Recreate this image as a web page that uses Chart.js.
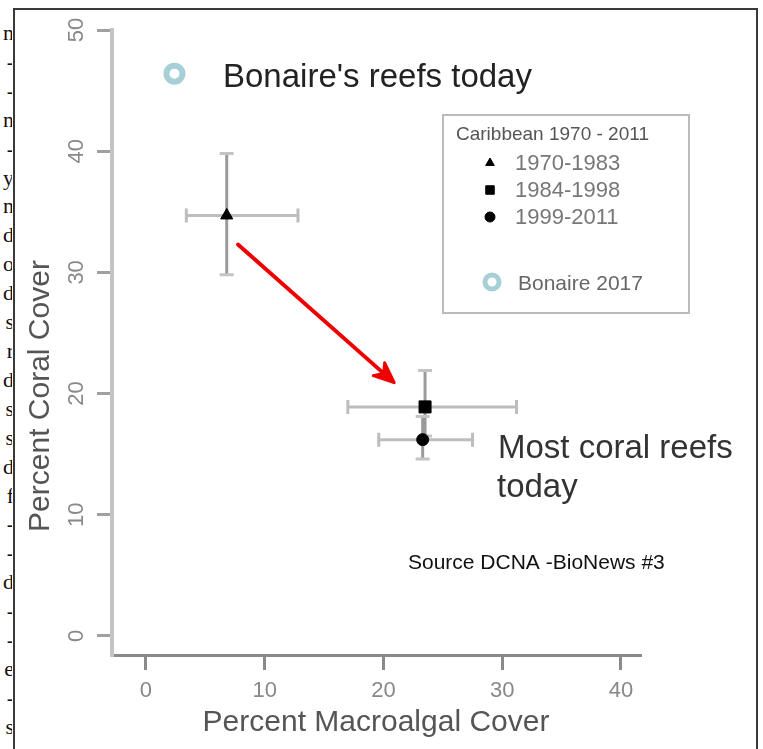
<!DOCTYPE html>
<html>
<head>
<meta charset="utf-8">
<script src="https://cdn.jsdelivr.net/npm/chart.js@4.4.1/dist/chart.umd.min.js"></script>
<style>
html, body { margin: 0; padding: 0; background: #fff; width: 763px; height: 749px; overflow: hidden; }
#frame { position: absolute; left: 13px; top: 8px; width: 745px; height: 780px; border: 2px solid #3a3a3a; border-bottom: none; box-sizing: border-box; }
#margin { position: absolute; left: 0; top: 0; width: 12px; height: 749px; overflow: hidden; padding-top: 19px; box-sizing: border-box;
  font-family: "Liberation Serif", serif; font-size: 22px; line-height: 28.9px; color: #111; }
#margin div { text-align: right; margin-right: -2px; white-space: nowrap; }
#myChart { position: absolute; left: 0; top: 0; }
</style>
</head>
<body>
<div id="margin"></div>
<div id="frame"></div>
<canvas id="myChart" width="763" height="749"></canvas>
<script>
// lettres coupées du texte voisin, à gauche du cadre
const marginLetters = ['n', '-', '-', 'n', '-', 'y', 'n', 'd', 'o', 'd', 's', 'r', 'd', 's', 's', 'd', 'f', '-', '-', 'd', '-', '-', 'e', '-', 's'];

// Données
const periods = ['1970-1983', '1984-1998', '1999-2011'];
const periodStyles = ['triangle', 'rect', 'circle'];
const macroalgae = [6.8, 23.5, 23.3];
const coral = [34.7, 18.9, 16.2];
const macroLow = [3.4, 17.0, 19.6];
const macroHigh = [12.8, 31.2, 27.5];
const coralLow = [29.8, 16.5, 14.6];
const coralHigh = [39.8, 21.9, 18.1];

const bonaireLabel = 'Bonaire 2017';
const bonaireMacro = [2.4];
const bonaireCoral = [46.4];

// flèche rouge (début, fin) en valeurs des axes
const arrowFrom = [7.75, 32.3];
const arrowTo = [20.9, 20.9];

const xTicks = [0, 10, 20, 30, 40];
const yTicks = [0, 10, 20, 30, 40, 50];
const xTitle = 'Percent Macroalgal Cover';
const yTitle = 'Percent Coral Cover';
const legendTitle = 'Caribbean 1970 - 2011';

const font = '"Liberation Sans", Arial, sans-serif';

const margin = document.getElementById('margin');
marginLetters.forEach(l => {
    const d = document.createElement('div');
    d.textContent = l;
    margin.appendChild(d);
});

// barres d'erreur sous les points
const errorBars = {
    id: 'errorBars',
    beforeDatasetsDraw(chart) {
        const { ctx, scales: { x, y } } = chart;
        ctx.save();
        ctx.lineWidth = 3;
        for (let i = 0; i < periods.length; i++) {
            const px = x.getPixelForValue(macroalgae[i]);
            const py = y.getPixelForValue(coral[i]);
            const x1 = x.getPixelForValue(macroLow[i]);
            const x2 = x.getPixelForValue(macroHigh[i]);
            const y1 = y.getPixelForValue(coralLow[i]);
            const y2 = y.getPixelForValue(coralHigh[i]);
            ctx.strokeStyle = '#bdbdbd';
            ctx.beginPath();
            ctx.moveTo(x1, py); ctx.lineTo(x2, py);
            ctx.moveTo(x1, py - 7); ctx.lineTo(x1, py + 7);
            ctx.moveTo(x2, py - 7); ctx.lineTo(x2, py + 7);
            ctx.stroke();
            ctx.strokeStyle = '#9a9a9a';
            ctx.beginPath();
            ctx.moveTo(px, y1); ctx.lineTo(px, y2);
            ctx.stroke();
            ctx.strokeStyle = '#c4c4c4';
            ctx.beginPath();
            ctx.moveTo(px - 7, y1); ctx.lineTo(px + 7, y1);
            ctx.moveTo(px - 7, y2); ctx.lineTo(px + 7, y2);
            ctx.stroke();
        }
        ctx.restore();
    }
};

// flèche, légende, textes
const extras = {
    id: 'extras',
    afterDatasetsDraw(chart) {
        const { ctx, scales: { x, y } } = chart;
        const ax = x.getPixelForValue(arrowFrom[0]), ay = y.getPixelForValue(arrowFrom[1]);
        const bx = x.getPixelForValue(arrowTo[0]), by = y.getPixelForValue(arrowTo[1]);
        const ang = Math.atan2(by - ay, bx - ax);
        ctx.save();
        ctx.strokeStyle = '#ee0000';
        ctx.fillStyle = '#ee0000';
        ctx.lineWidth = 4;
        ctx.lineCap = 'round';
        ctx.beginPath();
        ctx.moveTo(ax, ay); ctx.lineTo(bx - 8 * Math.cos(ang), by - 8 * Math.sin(ang));
        ctx.stroke();
        ctx.lineWidth = 3;
        ctx.lineJoin = 'round';
        ctx.beginPath();
        ctx.moveTo(bx, by);
        ctx.lineTo(bx - 22 * Math.cos(ang - 0.4), by - 22 * Math.sin(ang - 0.4));
        ctx.lineTo(bx - 14 * Math.cos(ang), by - 14 * Math.sin(ang));
        ctx.lineTo(bx - 22 * Math.cos(ang + 0.4), by - 22 * Math.sin(ang + 0.4));
        ctx.closePath();
        ctx.fill();
        ctx.stroke();
        ctx.restore();
    },
    afterDraw(chart) {
        const { ctx, scales: { y } } = chart;
        ctx.save();

        // étiquettes de l'axe y, verticales
        ctx.fillStyle = '#888';
        ctx.font = '22px ' + font;
        ctx.textAlign = 'center';
        ctx.textBaseline = 'middle';
        y.ticks.forEach(t => {
            ctx.save();
            ctx.translate(77, y.getPixelForValue(t.value));
            ctx.rotate(-Math.PI / 2);
            ctx.fillText(String(t.value), 0, 0);
            ctx.restore();
        });

        // titre de l'axe y
        ctx.save();
        ctx.fillStyle = '#555';
        ctx.font = '30px ' + font;
        ctx.translate(41, 396);
        ctx.rotate(-Math.PI / 2);
        ctx.fillText(yTitle, 0, 0);
        ctx.restore();

        // légende
        ctx.strokeStyle = '#bbb';
        ctx.lineWidth = 2;
        ctx.strokeRect(443, 115, 246, 198);
        ctx.textAlign = 'left';
        ctx.textBaseline = 'alphabetic';
        ctx.fillStyle = '#555';
        ctx.font = '19px ' + font;
        ctx.fillText(legendTitle, 456, 140);
        const rows = [170, 197, 224];
        periods.forEach((p, i) => {
            ctx.fillStyle = '#000';
            ctx.strokeStyle = '#000';
            ctx.lineWidth = 1;
            Chart.helpers.drawPoint(ctx, { pointStyle: periodStyles[i], radius: i === 1 ? 6 : 5, rotation: 0, borderWidth: 1 }, 490, rows[i] - 7);
            ctx.fillStyle = '#777';
            ctx.font = '22px ' + font;
            ctx.fillText(p, 515, rows[i]);
        });
        ctx.fillStyle = '#fff';
        ctx.strokeStyle = '#a6d0d5';
        ctx.lineWidth = 5;
        Chart.helpers.drawPoint(ctx, { pointStyle: 'circle', radius: 7, rotation: 0, borderWidth: 5 }, 492, 282);
        ctx.fillStyle = '#666';
        ctx.font = '21px ' + font;
        ctx.fillText(bonaireLabel, 518, 290);

        // annotations
        ctx.fillStyle = '#222';
        ctx.font = '33px ' + font;
        ctx.fillText("Bonaire's reefs today", 223, 87);
        ctx.fillStyle = '#333';
        ctx.fillText('Most coral reefs', 498, 458);
        ctx.fillText('today', 497, 497);
        ctx.fillStyle = '#111';
        ctx.font = '21px ' + font;
        ctx.fillText('Source DCNA -BioNews #3', 408, 569);
        ctx.restore();
    }
};

const datasets = periods.map((p, i) => ({
    label: p,
    data: [{ x: macroalgae[i], y: coral[i] }],
    pointStyle: periodStyles[i],
    pointRadius: [7, 8.5, 6][i],
    backgroundColor: '#000',
    borderColor: '#000',
    borderWidth: 1
}));
datasets.push({
    label: bonaireLabel,
    data: bonaireMacro.map((v, i) => ({ x: v, y: bonaireCoral[i] })),
    pointStyle: 'circle',
    pointRadius: 8,
    backgroundColor: '#fff',
    borderColor: '#a6d0d5',
    borderWidth: 6
});

const myChart = new Chart(document.getElementById('myChart'), {
    type: 'scatter',
    data: { datasets },
    options: {
        responsive: false,
        animation: false,
        layout: { padding: { top: 30, right: 123, left: 0, bottom: 0 } },
        plugins: { legend: { display: false }, tooltip: { enabled: false } },
        scales: {
            x: {
                type: 'linear',
                min: -2.86,
                max: 41.6,
                afterFit: s => { s.height = 94; },
                afterBuildTicks: s => { s.ticks = xTicks.map(v => ({ value: v })); },
                ticks: { color: '#888', font: { family: font, size: 22 }, padding: 8, maxRotation: 0 },
                grid: { drawOnChartArea: false, drawTicks: true, tickLength: 15, color: '#8a8a8a', lineWidth: 3 },
                border: { display: true, color: '#8a8a8a', width: 3 },
                title: { display: true, text: xTitle, color: '#555', font: { family: font, size: 30 }, padding: { top: 0, bottom: 8 } }
            },
            y: {
                type: 'linear',
                min: -1.57,
                max: 50,
                afterFit: s => { s.width = 112; },
                afterBuildTicks: s => { s.ticks = yTicks.map(v => ({ value: v })); },
                ticks: { display: false },
                grid: { drawOnChartArea: false, drawTicks: true, tickLength: 15, color: '#a0a0a0', lineWidth: 3 },
                border: { display: true, color: '#c4c4c4', width: 4 }
            }
        }
    },
    plugins: [errorBars, extras]
});
</script>
</body>
</html>
